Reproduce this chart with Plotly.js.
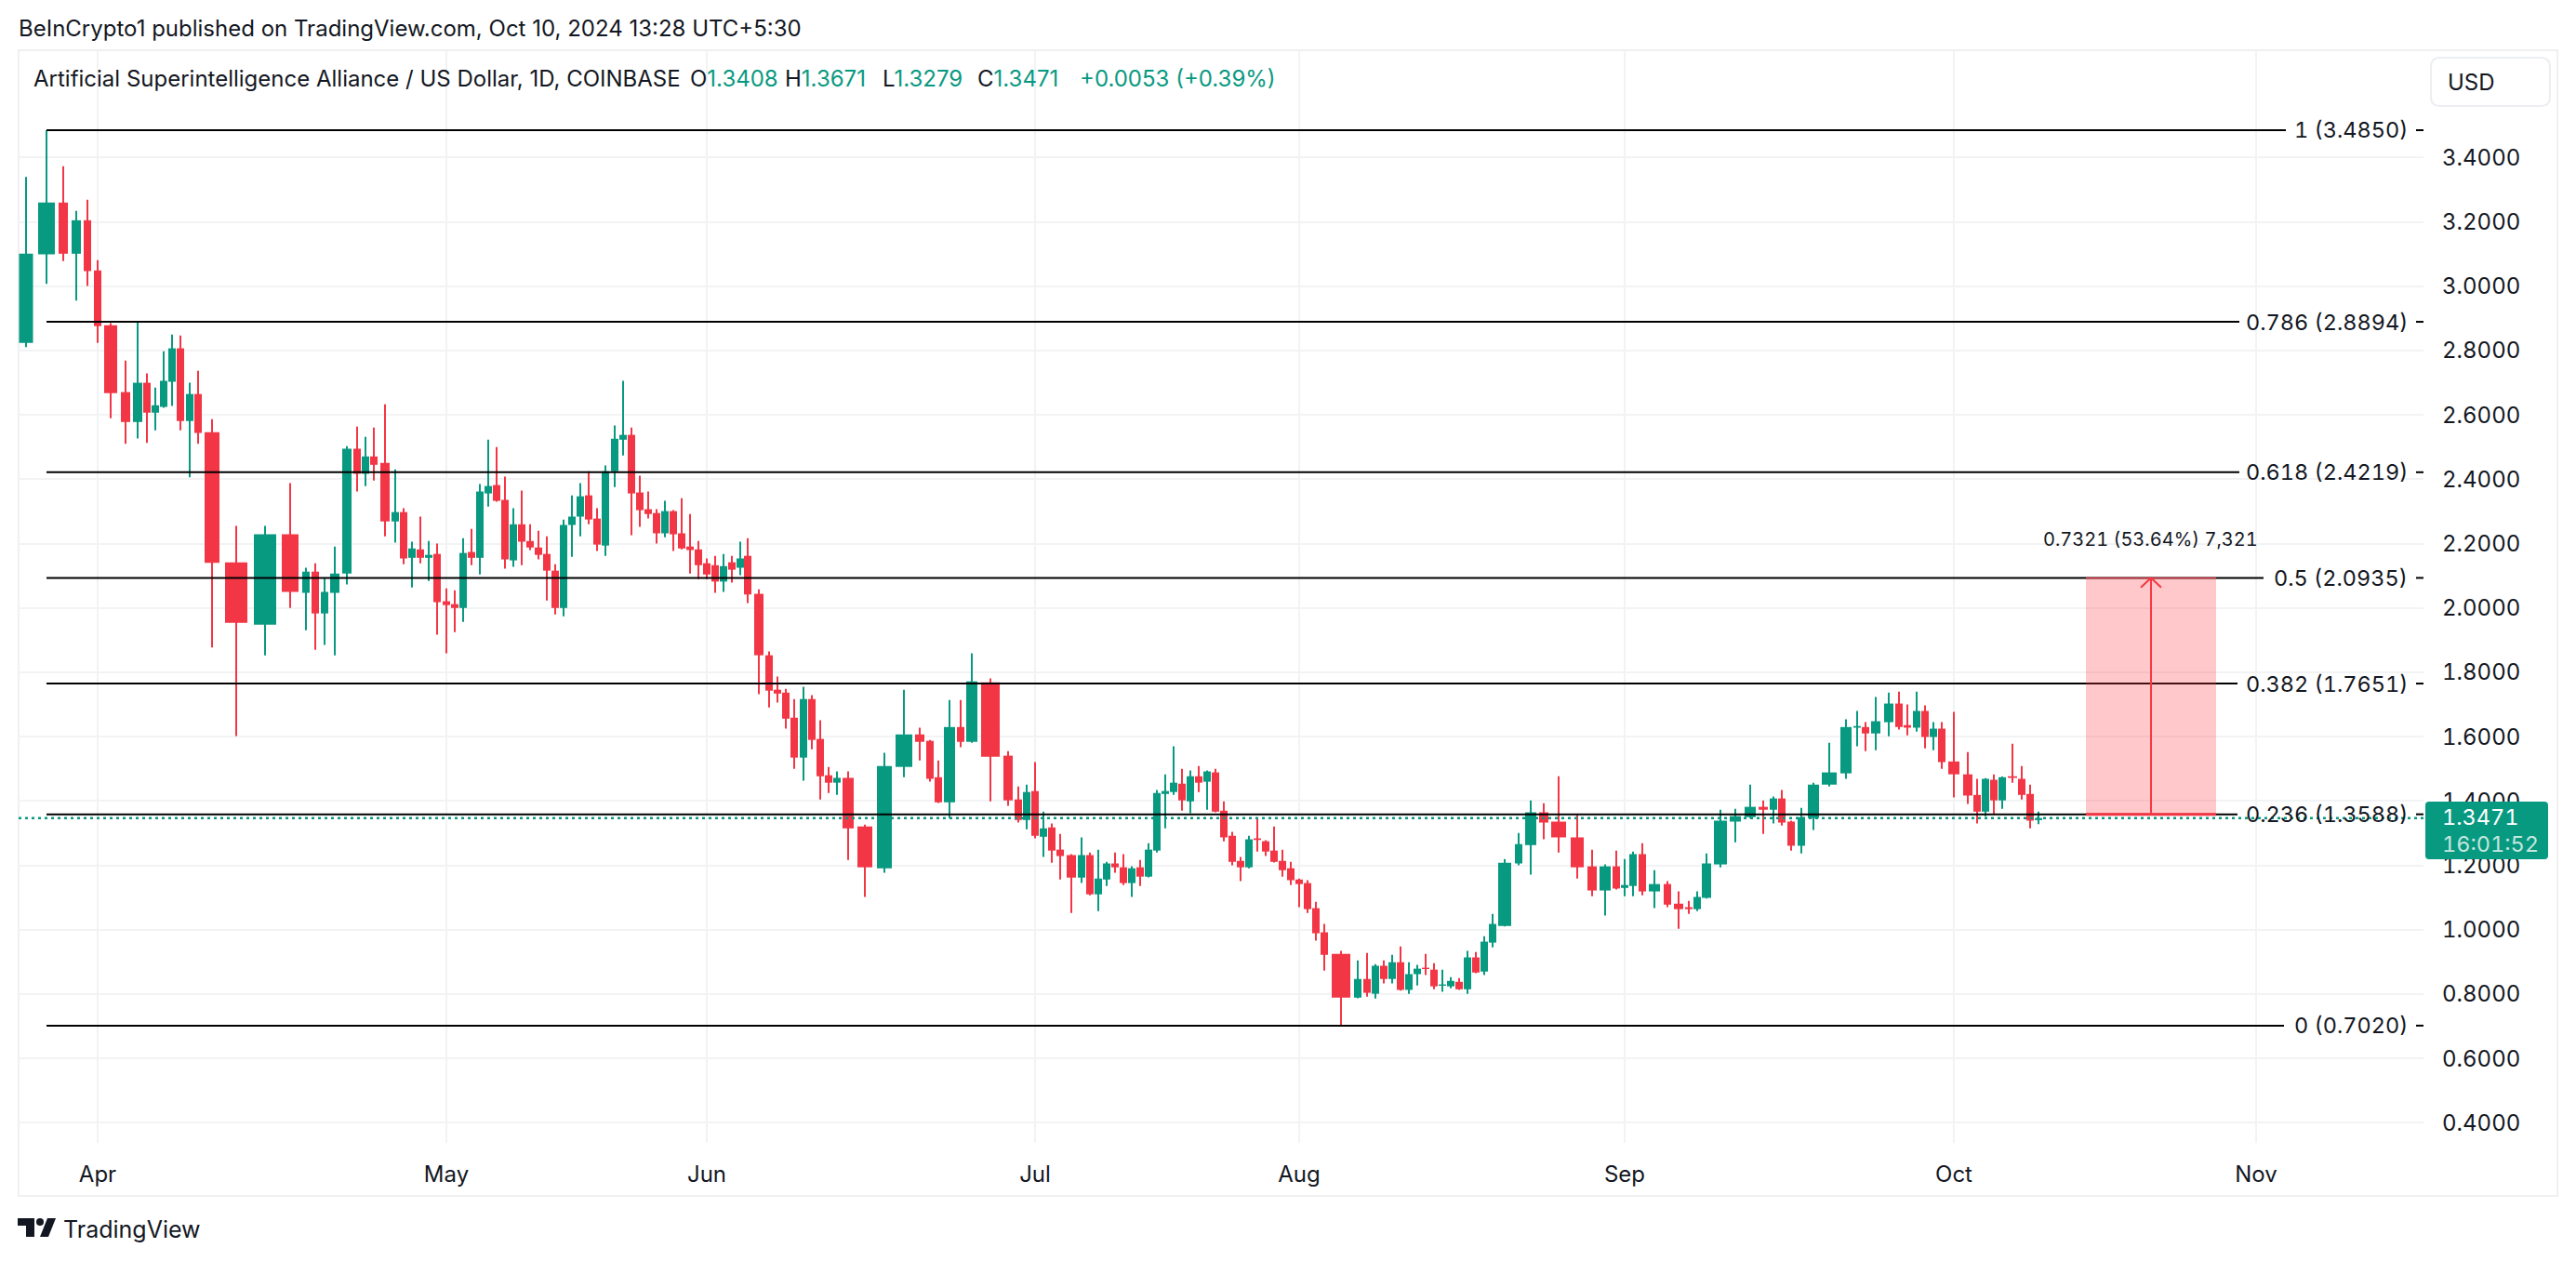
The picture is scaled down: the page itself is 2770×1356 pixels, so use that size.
<!DOCTYPE html>
<html><head><meta charset="utf-8">
<script src="https://cdn.plot.ly/plotly-3.0.1.min.js"></script>
<style>html,body{margin:0;padding:0;background:#fff}#c{width:2770px;height:1356px}
#c .ytick text{font-feature-settings:"tnum" 1;font-variant-numeric:tabular-nums}</style>
</head><body><div id="c"></div>
<script>
// Daily sessions, 2024-03-27 .. 2024-10-10.
const sessionX = [28,50,68,82,94,105,119,135,148,158,167,176,185,194,204,213,228,254,285,312,329,339,349,360,373,384,393,402,414,425,434,443,452,461,470,480,489,498,507,516,525,534,543,552,561,570,579,588,597,606,615,624,633,642,651,661,670,679,688,697,706,715,724,733,742,751,760,769,778,787,796,804,816,827,836,845,854,864,873,882,891,900,912,930,951,972,989,1000,1009,1021,1033,1045,1065,1084,1095,1104,1113,1122,1131,1140,1152,1163,1172,1181,1190,1199,1208,1217,1226,1235,1244,1253,1262,1271,1280,1289,1298,1307,1316,1325,1334,1343,1352,1361,1370,1379,1388,1397,1406,1415,1424,1442,1460,1470,1479,1488,1497,1506,1515,1524,1533,1542,1551,1560,1569,1578,1587,1596,1605,1618,1633,1646,1660,1676,1696,1712,1726,1738,1747,1756,1766,1779,1793,1805,1816,1825,1835,1850,1866,1882,1896,1907,1916,1926,1937,1950,1967,1985,1997,2006,2017,2031,2042,2051,2061,2070,2079,2088,2101,2116,2126,2135,2144,2153,2164,2174,2183,2192];
const sessionSpan = [15,18,10,10,8,8,14,10,10,8, 8,8,8,8,8,8,16,24,24,18, 8,8,8,10,10,8,8,8,10,8, 8,8,8,8,8,8,8,8,8,8, 8,8,8,8,8,8,8,8,8,8, 8,8,8,8,8,8,8,8,8,8, 8,8,8,8,8,8,8,8,8,8, 8,8,10,8,8,8,8,8,8,8, 8,8,12,16,16,18,10,8,8,12, 8,12,20,10,8,8,8,8,8,8, 10,8,8,8,8,8,8,8,8,8, 8,8,8,8,8,8,8,8,8,8, 8,8,8,8,8,8,8,8,8,8, 8,20,8,8,8,8,8,8,8,8, 8,8,8,8,8,8,8,8,8,14, 8,12,10,16,14,10,12,8,8,8, 8,12,8,10,8,8,10,14,12,12, 10,8,8,8,8,12,16,12,8,8, 10,10,8,8,8,8,8,8,12,10, 8,8,8,8,10,8,8,8];
const open = [2.824,3.099,3.260,3.101,3.205,3.049,2.879,2.671,2.578,2.700,2.607,2.625,2.703,2.807,2.581,2.665,2.546,2.142,1.948,2.229,2.047,2.113,1.983,2.047,2.107,2.495,2.417,2.471,2.451,2.269,2.298,2.156,2.182,2.156,2.168,2.021,2.012,2.000,2.174,2.156,2.356,2.382,2.336,2.148,2.260,2.208,2.188,2.168,2.116,2.000,2.258,2.284,2.350,2.278,2.194,2.425,2.523,2.538,2.359,2.307,2.295,2.232,2.301,2.232,2.191,2.182,2.139,2.133,2.082,2.142,2.125,2.162,2.044,1.853,1.746,1.737,1.659,1.535,1.717,1.593,1.480,1.457,1.472,1.321,1.191,1.506,1.607,1.587,1.474,1.396,1.630,1.584,1.769,1.541,1.405,1.341,1.431,1.289,1.318,1.249,1.232,1.162,1.232,1.110,1.156,1.206,1.194,1.145,1.194,1.165,1.246,1.422,1.428,1.454,1.399,1.477,1.460,1.489,1.370,1.292,1.214,1.194,1.284,1.275,1.246,1.214,1.191,1.156,1.145,1.067,0.992,0.925,0.789,0.847,0.801,0.888,0.847,0.899,0.813,0.862,0.882,0.876,0.826,0.824,0.838,0.815,0.914,0.870,0.960,1.012,1.206,1.263,1.365,1.336,1.287,1.197,1.122,1.197,1.130,1.136,1.235,1.119,1.142,1.081,1.070,1.064,1.099,1.203,1.336,1.350,1.382,1.373,1.408,1.336,1.261,1.347,1.451,1.486,1.628,1.630,1.610,1.645,1.703,1.636,1.628,1.680,1.599,1.625,1.523,1.483,1.419,1.367,1.466,1.402,1.477,1.469,1.422,1.3408];
const high = [3.340,3.485,3.373,3.234,3.269,3.081,2.885,2.769,2.888,2.729,2.685,2.798,2.850,2.847,2.700,2.737,2.587,2.255,2.255,2.388,2.125,2.139,2.093,2.191,2.503,2.564,2.532,2.561,2.633,2.431,2.310,2.206,2.284,2.208,2.200,2.061,2.055,2.217,2.246,2.385,2.523,2.500,2.408,2.310,2.365,2.260,2.240,2.223,2.136,2.275,2.350,2.388,2.425,2.310,2.443,2.567,2.706,2.561,2.411,2.362,2.307,2.333,2.304,2.341,2.292,2.208,2.154,2.162,2.168,2.162,2.206,2.217,2.058,1.865,1.787,1.749,1.717,1.755,1.729,1.651,1.506,1.492,1.492,1.327,1.550,1.746,1.628,1.590,1.526,1.714,1.714,1.859,1.781,1.555,1.445,1.451,1.521,1.367,1.330,1.298,1.235,1.287,1.240,1.249,1.211,1.240,1.235,1.197,1.217,1.269,1.434,1.483,1.570,1.500,1.495,1.509,1.495,1.500,1.399,1.304,1.226,1.292,1.347,1.278,1.321,1.249,1.211,1.159,1.154,1.087,1.018,0.934,0.905,0.928,0.893,0.905,0.922,0.948,0.899,0.891,0.925,0.896,0.876,0.853,0.850,0.934,0.931,0.980,1.049,1.220,1.301,1.402,1.393,1.477,1.356,1.249,1.203,1.246,1.220,1.243,1.269,1.185,1.151,1.119,1.090,1.119,1.237,1.373,1.376,1.451,1.402,1.414,1.434,1.339,1.379,1.457,1.581,1.654,1.680,1.645,1.723,1.737,1.740,1.700,1.740,1.697,1.645,1.645,1.677,1.552,1.469,1.471,1.483,1.476,1.578,1.509,1.451,1.3671];
const low = [2.811,3.007,3.078,2.955,3.001,2.824,2.590,2.510,2.527,2.513,2.552,2.622,2.628,2.552,2.406,2.510,1.877,1.602,1.853,2.000,1.931,1.870,1.885,1.853,2.073,2.362,2.379,2.396,2.223,2.203,2.136,2.064,2.139,2.084,1.917,1.859,1.925,1.957,2.133,2.104,2.315,2.330,2.122,2.128,2.133,2.180,2.151,2.023,1.980,1.974,2.159,2.223,2.260,2.177,2.162,2.376,2.474,2.226,2.252,2.278,2.200,2.220,2.177,2.182,2.107,2.090,2.090,2.047,2.050,2.079,2.102,2.015,1.732,1.691,1.706,1.625,1.500,1.463,1.561,1.405,1.425,1.419,1.217,1.102,1.177,1.474,1.526,1.460,1.394,1.347,1.567,1.581,1.399,1.385,1.333,1.312,1.284,1.226,1.208,1.156,1.052,1.145,1.107,1.058,1.136,1.177,1.139,1.102,1.136,1.163,1.240,1.315,1.419,1.370,1.362,1.428,1.373,1.365,1.275,1.200,1.151,1.191,1.243,1.229,1.209,1.165,1.139,1.070,1.052,0.966,0.873,0.702,0.787,0.792,0.786,0.833,0.833,0.811,0.801,0.827,0.859,0.815,0.807,0.818,0.813,0.801,0.865,0.859,0.945,1.010,1.200,1.171,1.281,1.240,1.159,1.104,1.044,1.125,1.104,1.104,1.107,1.067,1.070,1.003,1.049,1.058,1.097,1.194,1.272,1.347,1.298,1.330,1.324,1.246,1.237,1.310,1.445,1.469,1.570,1.555,1.558,1.601,1.622,1.604,1.616,1.564,1.558,1.500,1.411,1.391,1.330,1.353,1.359,1.376,1.457,1.405,1.315,1.3279];
const close = [3.101,3.260,3.101,3.205,3.047,2.876,2.668,2.578,2.700,2.607,2.630,2.706,2.807,2.581,2.665,2.544,2.140,1.954,2.229,2.050,2.113,1.983,2.050,2.107,2.495,2.417,2.471,2.445,2.269,2.298,2.154,2.185,2.156,2.165,2.018,2.009,2.000,2.171,2.156,2.362,2.379,2.333,2.151,2.260,2.206,2.188,2.165,2.116,2.000,2.258,2.284,2.347,2.275,2.197,2.425,2.526,2.538,2.356,2.304,2.292,2.232,2.301,2.229,2.185,2.180,2.133,2.104,2.082,2.130,2.119,2.154,2.042,1.853,1.743,1.734,1.656,1.535,1.717,1.590,1.477,1.457,1.472,1.315,1.194,1.509,1.607,1.584,1.469,1.396,1.630,1.584,1.772,1.538,1.402,1.341,1.428,1.292,1.315,1.246,1.229,1.162,1.232,1.110,1.159,1.206,1.194,1.145,1.191,1.165,1.249,1.425,1.431,1.457,1.402,1.477,1.457,1.492,1.367,1.287,1.211,1.194,1.281,1.279,1.243,1.211,1.185,1.154,1.142,1.064,0.989,0.922,0.789,0.847,0.804,0.888,0.847,0.899,0.813,0.862,0.879,0.878,0.824,0.830,0.841,0.815,0.914,0.867,0.963,1.018,1.208,1.266,1.365,1.333,1.287,1.194,1.122,1.197,1.128,1.139,1.235,1.119,1.142,1.078,1.064,1.064,1.102,1.206,1.339,1.353,1.382,1.373,1.408,1.333,1.261,1.350,1.451,1.489,1.630,1.633,1.610,1.648,1.703,1.630,1.628,1.680,1.599,1.625,1.521,1.483,1.417,1.367,1.469,1.402,1.474,1.472,1.419,1.339,1.3471];

const priceTicks = [0.4,0.6,0.8,1.0,1.2,1.4,1.6,1.8,2.0,2.2,2.4,2.6,2.8,3.0,3.2,3.4];
const monthLabels = ["Apr","May","Jun","Jul","Aug","Sep","Oct","Nov"];
const monthX = [105,480,760,1113,1397,1747,2101,2426];

const fibRatio = ["1","0.786","0.618","0.5","0.382","0.236","0"];
const fibPrice = [3.4850,2.8894,2.4219,2.0935,1.7651,1.3588,0.7020];
const fibLineEnd = [2458,2408,2408,2434,2406,2406,2456];
const lastClose = 1.3471;
const measureText = "0.7321 (53.64%) 7,321";
const measureBox = [2243,2383];

const GREEN="#089981", RED="#F23645", INK="#131722", GRID="#f2f3f5", FONT="Inter, sans-serif";
const W=2770,H=1356,L=20,R=2606,T=54,B=1229;
const fx=p=>(p-L)/(R-L), fy=p=>(B-p)/(B-T);
const tnum=s=>`<span style="font-feature-settings:'tnum' 1">${s}</span>`;
const isUp=sessionX.map((_,i)=>close[i]>=open[i]);
const candleColor=isUp.map(u=>u?GREEN:RED);

const traces=[];
fibPrice.forEach((p,i)=>{
  traces.push({type:"scatter",mode:"lines",x:[sessionX[1],fibLineEnd[i]],y:[p,p],line:{color:"#000",width:2},hoverinfo:"skip",showlegend:false});
  traces.push({type:"scatter",mode:"lines",x:[2598,2606],y:[p,p],line:{color:"#000",width:2},hoverinfo:"skip",showlegend:false});
});
traces.push({type:"bar",x:sessionX,base:low,y:high.map((h,i)=>h-low[i]),width:sessionX.map(()=>2),marker:{color:candleColor,line:{width:0}},showlegend:false,hoverinfo:"skip"});
traces.push({type:"bar",x:sessionX,base:open.map((o,i)=>Math.min(o,close[i])),y:open.map((o,i)=>Math.abs(close[i]-o)),width:sessionSpan,marker:{color:candleColor,line:{width:0}},showlegend:false,hoverinfo:"skip"});
traces.push({type:"scatter",mode:"lines",x:[L,R],y:[lastClose,lastClose],line:{color:GREEN,width:2.5,dash:"3px,4px"},hoverinfo:"skip",showlegend:false});
const mid=(measureBox[0]+measureBox[1])/2;
traces.push({type:"scatter",mode:"lines",x:[mid,mid],y:[fibPrice[5],fibPrice[3]],line:{color:RED,width:2},hoverinfo:"skip",showlegend:false});
traces.push({type:"scatter",mode:"lines",x:[mid-11,mid,mid+11],y:[fibPrice[3]-0.03,fibPrice[3],fibPrice[3]-0.03],line:{color:RED,width:2},hoverinfo:"skip",showlegend:false});

const roundRect=(x0,y0,x1,y1,r)=>{
  const X=fx,Y=fy,rx=r/(R-L),ry=r/(B-T);
  const a=X(x0),b=X(x1),c=Y(y0),d=Y(y1);
  return `M${a+rx},${c} L${b-rx},${c} Q${b},${c} ${b},${c-ry} L${b},${d+ry} Q${b},${d} ${b-rx},${d} L${a+rx},${d} Q${a},${d} ${a},${d+ry} L${a},${c-ry} Q${a},${c} ${a+rx},${c} Z`;
};
const poly=pts=>"M"+pts.map(p=>fx(p[0])+","+fy(p[1])).join(" L")+" Z";

const shapes=[
  {type:"rect",xref:"paper",yref:"paper",x0:fx(20),x1:fx(2750),y0:fy(54),y1:fy(1286),line:{color:"#f0f0f2",width:2},fillcolor:"rgba(0,0,0,0)",layer:"below"},
  {type:"rect",xref:"x",yref:"y",x0:measureBox[0],x1:measureBox[1],y0:fibPrice[5],y1:fibPrice[3],line:{width:0},fillcolor:"rgba(255,60,70,0.28)",layer:"above"},
  {type:"line",xref:"x",yref:"y",x0:measureBox[0],x1:measureBox[1],y0:fibPrice[5],y1:fibPrice[5],line:{color:RED,width:3},layer:"above"},
  {type:"line",xref:"x",yref:"y",x0:measureBox[0],x1:measureBox[1],y0:fibPrice[3],y1:fibPrice[3],line:{color:RED,width:1},layer:"above"},
  {type:"path",xref:"paper",yref:"paper",path:roundRect(2608,862,2740,924,4),fillcolor:GREEN,line:{width:0},layer:"above"},
  {type:"path",xref:"paper",yref:"paper",path:roundRect(2614,62,2742,114,10),fillcolor:"#fff",line:{color:"#eceef2",width:2},layer:"above"},
  {type:"path",xref:"paper",yref:"paper",path:poly([[19,1310],[37,1310],[37,1330],[28,1330],[28,1318],[19,1318]]),fillcolor:INK,line:{width:0},layer:"above"},
  {type:"path",xref:"paper",yref:"paper",path:poly([[51,1310],[60,1310],[52,1330],[43,1330]]),fillcolor:INK,line:{width:0},layer:"above"},
  {type:"circle",xref:"paper",yref:"paper",x0:fx(39),x1:fx(47),y0:fy(1310),y1:fy(1318),fillcolor:INK,line:{width:0},layer:"above"}
];

const txt=(text,px,py,size,color,anchor)=>({text,xref:"paper",yref:"paper",x:fx(px),y:fy(py),xanchor:anchor||"left",yanchor:"middle",showarrow:false,borderpad:0,font:{family:FONT,size,color}});
const val=(k,v)=>`<span style="color:${INK}">${k}</span><span style="color:${GREEN}">${v}</span>`;
const annotations=[
  txt("BeInCrypto1 published on TradingView.com, Oct 10, 2024 13:28 UTC+5:30",19,31,24,INK),
  txt("Artificial Superintelligence Alliance / US Dollar, 1D, COINBASE",35,85,24,INK),
  txt(val("O","1.3408"),741,85,24,INK),
  txt(val("H","1.3671"),843,85,24,INK),
  txt(val("L","1.3279"),948,85,24,INK),
  txt(val("C","1.3471"),1050,85,24,INK),
  txt("+0.0053 (+0.39%)",1160,85,24,GREEN),
  txt("USD",2631,88,24,INK),
  txt(tnum("1.3471"),2625,878,23.5,"#ffffff"),
  txt(tnum("16:01:52"),2625,907,23.5,"#c4e6df"),
  txt("TradingView",67,1322,25,INK)
];
fibPrice.forEach((p,i)=>annotations.push({text:tnum(`${fibRatio[i]} (${p.toFixed(4)})`),xref:"x",yref:"y",x:2590,y:p,xanchor:"right",yanchor:"middle",showarrow:false,borderpad:0,font:{family:FONT,size:23.5,color:INK}}));
annotations.push({text:tnum(measureText),xref:"x",yref:"y",x:2312,y:2.214,xanchor:"center",yanchor:"middle",showarrow:false,borderpad:0,font:{family:FONT,size:20,color:INK}});

const layout={
  width:W,height:H,margin:{l:L,r:W-R,t:T,b:H-B,pad:0},
  paper_bgcolor:"#fff",plot_bgcolor:"#fff",showlegend:false,barmode:"overlay",hovermode:false,
  font:{family:FONT,color:INK,size:24},
  xaxis:{type:"linear",range:[L,R],tickmode:"array",tickvals:monthX,ticktext:monthLabels,showgrid:true,gridcolor:GRID,gridwidth:2,zeroline:false,showline:false,ticks:"",ticklabelstandoff:17,tickfont:{family:FONT,size:24,color:INK},fixedrange:true},
  yaxis:{type:"linear",side:"right",range:[0.3375,3.7335],tickmode:"array",tickvals:priceTicks,ticktext:priceTicks.map(v=>v.toFixed(4)),showgrid:true,gridcolor:GRID,gridwidth:2,zeroline:false,showline:false,ticks:"",ticklabelstandoff:19,tickfont:{family:FONT,size:24,color:INK},fixedrange:true},
  shapes,annotations
};
Plotly.newPlot("c",traces,layout,{displayModeBar:false,staticPlot:true});
</script></body></html>
